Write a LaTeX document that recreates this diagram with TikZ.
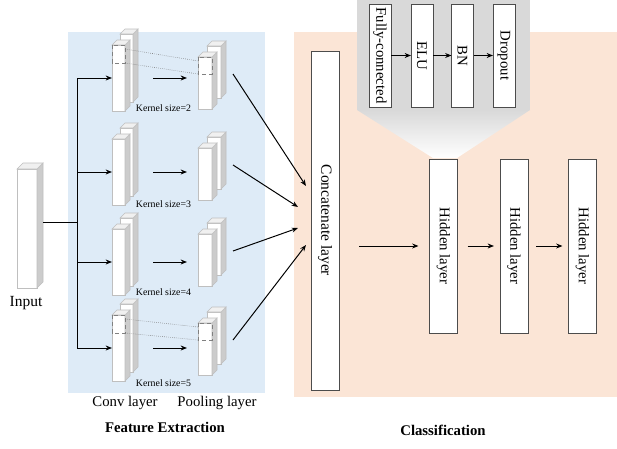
\documentclass[tikz,border=0pt]{standalone}
\usepackage{fontspec}
\setmainfont{Liberation Serif}
\usepackage{graphicx}
\usetikzlibrary{calc, arrows.meta}

\definecolor{featblue}{HTML}{DEEBF7}
\definecolor{classpeach}{HTML}{FBE5D6}
\definecolor{zoomgray}{HTML}{D9D9D9}

% One pixel of the layout grid
\def\px{0.025cm}

% 3D slab: name, x, y (top left of front face), width, height, depth
\newcommand{\slab}[6]{%
    \node[face, minimum width=#4*\px, minimum height=#5*\px] (#1) at (#2,#3) {};
    \filldraw[sideface] (#1.north east) -- ++(#6,-#6) -- ++(0,#5) -- (#1.south east) -- cycle;
    \filldraw[topface] (#1.north west) -- ++(#6,-#6) -- ++(#4,0) -- (#1.north east) -- cycle;
}

\begin{document}
\begin{tikzpicture}[
    x=\px, y=-\px,
    % Faces of the 3D slabs
    face/.style={draw=black!25, fill=white, anchor=north west, inner sep=0pt, outer sep=0pt},
    sideface/.style={draw=black!25, fill=black!20},
    topface/.style={draw=black!25, fill=black!6},
    % Flat layers of the classifier
    layer/.style={draw=black!70, fill=white, inner sep=0pt, outer sep=0pt,
        minimum width=28*\px, font=\fontsize{10.5}{12}\selectfont},
    flow/.style={-{Stealth[length=4.5pt, width=3.5pt]}, line width=0.7pt},
    window/.style={densely dashed, draw=black!50},
    trace/.style={densely dotted, draw=black!55},
    kernel/.style={anchor=west, font=\fontsize{7}{8}\selectfont},
    caption/.style={font=\fontsize{10.5}{12}\selectfont}
]

    % Backgrounds

    \useasboundingbox (0,0) rectangle (617,448);
    \fill[featblue] (68,32) rectangle (265,393);
    \fill[classpeach] (294,32) rectangle (617,397);

    %% Zoomed view of a hidden layer
    \fill[zoomgray] (357,0) rectangle (530,110);
    \shade[top color=zoomgray, bottom color=white] (357,110) -- (530,110) -- (457,158) -- (433,158) -- cycle;


    % Input

    \slab{input}{17}{169}{20}{119}{6}
    \node[font=\fontsize{11}{13}\selectfont] (inputlabel) at (26,303) {Input};
    \coordinate (split) at (77,222);


    % Feature extraction

    %% Conv layers (back slab first)
    \slab{cb1}{120}{34}{13}{68}{5}
    \slab{c1}{112}{45}{13}{66}{5}
    \slab{cb2}{120}{128}{13}{68}{5}
    \slab{c2}{112}{139}{13}{66}{5}
    \slab{cb3}{120}{218}{13}{68}{5}
    \slab{c3}{112}{229}{13}{66}{5}
    \slab{cb4}{120}{304}{13}{68}{5}
    \slab{c4}{112}{315}{13}{66}{5}

    %% Pooling layers (back slab first)
    \slab{pb1}{207}{46}{14}{52}{5}
    \slab{p1}{198}{57}{14}{52}{5}
    \slab{pb2}{207}{137}{14}{52}{5}
    \slab{p2}{198}{148}{14}{52}{5}
    \slab{pb3}{207}{223}{14}{52}{5}
    \slab{p3}{198}{234}{14}{52}{5}
    \slab{pb4}{207}{312}{14}{52}{5}
    \slab{p4}{198}{323}{14}{52}{5}

    %% Kernel sizes
    \node[kernel] (k1) at ($(c1.south east)+(6,-3)$) {Kernel size=2};
    \node[kernel] (k2) at ($(c2.south east)+(6,-1)$) {Kernel size=3};
    \node[kernel] (k3) at ($(c3.south east)+(6,-3)$) {Kernel size=4};
    \node[kernel] (k4) at ($(c4.south east)+(6,2)$) {Kernel size=5};

    %% Pooling windows
    \draw[window] (c1.north west) rectangle ($(c1.north east)+(0,18)$);
    \draw[window] (p1.north west) rectangle ($(p1.north east)+(0,17)$);
    \draw[trace] ($(c1.north east)+(0,4)$) -- ($(p1.north west)+(0,4)$);
    \draw[trace] ($(c1.north east)+(0,18)$) -- ($(p1.north west)+(0,17)$);
    \draw[window] (c4.north west) rectangle ($(c4.north east)+(0,18)$);
    \draw[window] (p4.north west) rectangle ($(p4.north east)+(0,17)$);
    \draw[trace] ($(c4.north east)+(0,4)$) -- ($(p4.north west)+(0,4)$);
    \draw[trace] ($(c4.north east)+(0,18)$) -- ($(p4.north west)+(0,17)$);

    %% Branching from the input
    \draw[line width=0.7pt] ($(input.east |- split)+(6,0)$) -- (split);
    \draw[line width=0.7pt] (split |- c1.west) -- (split |- c4.west);
    \draw[flow] (split |- c1.west) -- (c1.west);
    \draw[flow] (split |- c2.west) -- (c2.west);
    \draw[flow] (split |- c3.west) -- (c3.west);
    \draw[flow] (split |- c4.west) -- (c4.west);

    %% Conv to pooling
    \draw[flow] ($(c1.west)+(41,0)$) -- ($(p1.west |- c1.west)+(-11,0)$);
    \draw[flow] ($(c2.west)+(41,0)$) -- ($(p2.west |- c2.west)+(-11,0)$);
    \draw[flow] ($(c3.west)+(41,0)$) -- ($(p3.west |- c3.west)+(-11,0)$);
    \draw[flow] ($(c4.west)+(41,0)$) -- ($(p4.west |- c4.west)+(-11,0)$);

    \node[caption] (convlabel) at (125,403) {Conv layer};
    \node[caption] (poollabel) at (217,403) {Pooling layer};
    \node[font=\fontsize{10.5}{12}\selectfont\bfseries] (featlabel) at (165,427) {Feature Extraction};


    % Classification

    \node[layer, minimum height=339*\px, font=\fontsize{11}{13}\selectfont] (concat) at (325,220.5)
        {\rotatebox{-90}{Concatenate layer}};

    %% Inputs of the concatenation
    \coordinate (j1) at (306,186);
    \coordinate (j2) at (298,207);
    \coordinate (j3) at (298,228);
    \coordinate (j4) at (306,245);
    \draw[flow] ($(pb1.east)+(12,2)$) -- (j1);
    \draw[flow] ($(pb2.east)+(12,2)$) -- (j2);
    \draw[flow] ($(pb3.east)+(12,2)$) -- (j3);
    \draw[flow] ($(pb4.east)+(12,2)$) -- (j4);

    %% Hidden layers
    \node[layer, minimum height=174*\px] (h1) at (443.5,246) {\rotatebox{-90}{Hidden layer}};
    \node[layer, minimum height=174*\px] (h2) at (514,246) {\rotatebox{-90}{Hidden layer}};
    \node[layer, minimum height=174*\px] (h3) at (582.5,246) {\rotatebox{-90}{Hidden layer}};
    \draw[flow] ($(concat.east |- h1.west)+(20,0)$) -- ($(h1.west)+(-11,0)$);
    \draw[flow] ($(h1.east)+(10,0)$) -- ($(h2.west)+(-6,0)$);
    \draw[flow] ($(h2.east)+(8,0)$) -- ($(h3.west)+(-6,0)$);

    %% Inside a hidden layer
    \node[layer, minimum width=22*\px, minimum height=103*\px] (fc) at (380,55.5) {\rotatebox{-90}{Fully-connected}};
    \node[layer, minimum width=22*\px, minimum height=103*\px] (elu) at (422,55.5) {\rotatebox{-90}{ELU}};
    \node[layer, minimum width=22*\px, minimum height=103*\px] (bn) at (462.5,55.5) {\rotatebox{-90}{BN}};
    \node[layer, minimum width=22*\px, minimum height=103*\px] (drop) at (504,55.5) {\rotatebox{-90}{Dropout}};
    \draw[flow] (fc) -- (elu);
    \draw[flow] (elu) -- (bn);
    \draw[flow] (bn) -- (drop);

    \node[font=\fontsize{10.5}{12}\selectfont\bfseries] (classlabel) at (443,430) {Classification};

\end{tikzpicture}
\end{document}
